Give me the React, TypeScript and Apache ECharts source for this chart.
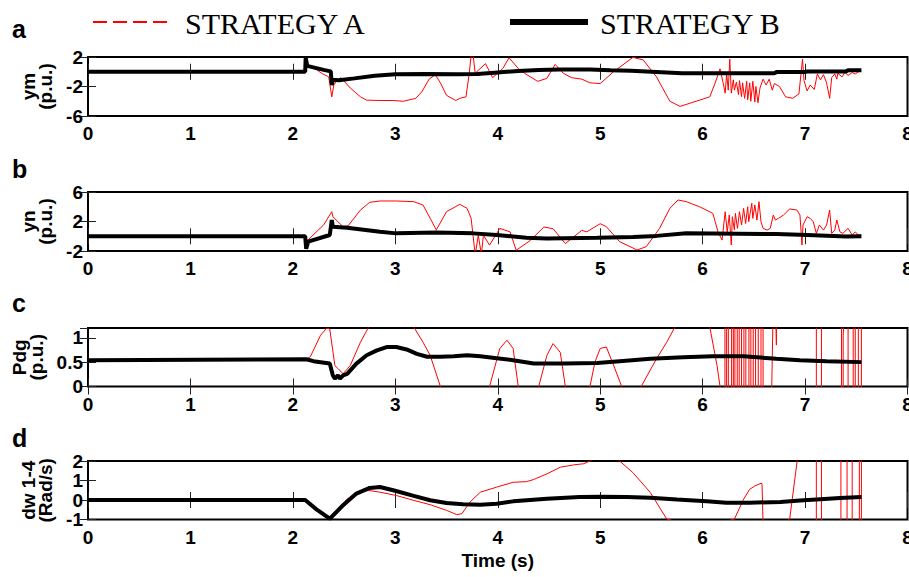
import React, { useEffect, useRef } from "react";
import * as echarts from "echarts";

type P = [number, number];

const xTickLabels = ["0", "1", "2", "3", "4", "5", "6", "7", "8"];
const legendNames = ["STRATEGY A", "STRATEGY B"];
const panelLetters = ["a", "b", "c", "d"];
const yNames = ["ym\n(p.u.)", "yn\n(p.u.)", "Pdg\n(p.u.)", "dw 1-4\n(Rad/s)"];
const yMins = [-6, -2, 0, -1];
const yMaxs = [2, 6, 1.2, 2];
const yIntervals = [4, 4, 0.5, 1];

// Panel a: ym
const ymB: P[] = [
  [0, 0], [2.12, 0], [2.125, 1.9], [2.14, 0.8], [2.2, 0.6], [2.3, 0.25], [2.37, 0.05], [2.38, -1.8],
  [2.39, -1.1], [2.45, -1.15], [2.6, -0.9], [2.8, -0.55], [3.0, -0.35], [3.3, -0.3], [3.6, -0.35],
  [3.8, -0.3], [4.0, -0.1], [4.2, 0.1], [4.4, 0.25], [4.6, 0.3], [4.9, 0.3], [5.1, 0.2], [5.3, 0.12],
  [5.5, 0.0], [5.8, -0.2], [6.2, -0.2], [6.7, -0.2], [6.72, -0.05], [7.0, -0.05], [7.02, 0.05],
  [7.4, 0.05], [7.42, 0.2], [7.55, 0.2],
];
const ymA: P[] = [
  [0, 0], [2.12, 0], [2.125, 1.9], [2.14, 1.0], [2.2, 0.6], [2.28, -0.2], [2.35, -0.7], [2.38, -3.4],
  [2.4, -1.8], [2.43, -1.2], [2.47, -0.8], [2.56, -2.2], [2.66, -3.4], [2.72, -3.85], [2.85, -3.9],
  [2.98, -3.9], [3.08, -4.0], [3.2, -3.6], [3.26, -2.7], [3.33, -1.0], [3.39, -0.4], [3.44, -1.5],
  [3.5, -3.2], [3.59, -3.9], [3.63, -3.6], [3.69, -3.4], [3.72, -0.4], [3.74, 2.2], [3.76, 2.2],
  [3.78, -0.2], [3.88, 1.1], [3.95, -0.8], [4.05, 0.45], [4.11, 1.9], [4.2, 0.45], [4.26, -0.2],
  [4.39, -1.3], [4.48, -0.9], [4.56, 1.0], [4.64, -0.2], [4.72, -0.8], [4.82, -1.0], [4.9, -1.5],
  [5.0, -1.6], [5.13, 0.0], [5.32, 1.95], [5.42, 1.6], [5.55, -0.7], [5.68, -4.0], [5.78, -4.7],
  [6.07, -3.4], [6.12, -1.6], [6.17, 0.4], [6.2, -1.5], [6.22, -2.9], [6.235, -0.2], [6.25, -2.5],
  [6.265, 1.7], [6.28, -2.9], [6.3, -1.1], [6.31, -2.5], [6.33, -1.4], [6.35, -3.1], [6.36, -1.2],
  [6.38, -3.4], [6.39, -1.5], [6.41, -3.6], [6.43, -1.3], [6.44, -3.8], [6.46, -1.5], [6.47, -4.0],
  [6.49, -1.3], [6.51, -4.1], [6.52, -2.0], [6.54, -4.2], [6.56, -2.2], [6.59, -1.0], [6.62, -1.8],
  [6.65, -1.0], [6.68, -2.5], [6.7, -1.6], [6.75, -2.0], [6.81, -3.4], [6.88, -3.6], [6.94, -3.0],
  [6.975, 1.7], [6.99, -1.2], [7.02, -2.6], [7.05, -1.8], [7.09, -2.4], [7.12, -0.3], [7.15, -1.1],
  [7.18, -0.4], [7.21, -1.5], [7.24, -3.6], [7.26, -0.8], [7.29, -0.3], [7.31, -1.0], [7.32, -0.2],
  [7.36, -0.7], [7.39, -0.1], [7.42, -0.5], [7.46, -0.1], [7.49, -0.3], [7.52, 0.0], [7.55, 0.1],
];

// Panel b: yn
const ynB: P[] = [
  [0, 0], [2.12, 0], [2.13, -1.7], [2.15, -0.74], [2.36, 0.17], [2.38, 2.2], [2.39, 1.3], [2.53, 1.16],
  [2.85, 0.6], [3.01, 0.39], [3.4, 0.5], [3.76, 0.39], [3.99, 0.16], [4.28, -0.2], [4.48, -0.3],
  [4.97, -0.2], [5.32, -0.1], [5.55, 0.05], [5.84, 0.4], [6.72, 0.3], [7.02, 0.17], [7.4, -0.05],
  [7.55, 0.0],
];
const ynA: P[] = [
  [0, 0], [2.12, 0], [2.13, -0.74], [2.3, 1.53], [2.38, 3.33], [2.39, 2.65], [2.44, 1.97], [2.49, 1.3],
  [2.54, 1.43], [2.66, 3.56], [2.75, 4.6], [2.85, 4.78], [3.01, 4.78], [3.18, 4.69], [3.27, 4.24],
  [3.34, 2.44], [3.4, 0.86], [3.5, 3.33], [3.63, 4.33], [3.7, 3.79], [3.74, 2.44], [3.78, -2.5],
  [3.81, 0.15], [3.84, -2.5], [3.86, 0.15], [3.92, -1.2], [4.02, 1.06], [4.12, 0.6], [4.18, -1.9],
  [4.32, -0.55], [4.45, 1.25], [4.54, 1.02], [4.66, -1.0], [4.74, -0.1], [4.82, 0.8], [4.87, 0.6],
  [5.0, 1.7], [5.06, 1.3], [5.19, -0.74], [5.36, -1.86], [5.45, -1.41], [5.58, 1.07], [5.68, 3.78],
  [5.76, 4.92], [5.84, 4.69], [5.97, 4.0], [6.1, 3.1], [6.15, 0.6], [6.19, -0.52], [6.22, 3.33],
  [6.24, 0.6], [6.26, 2.88], [6.28, -1.19], [6.29, 2.65], [6.31, 0.84], [6.32, 3.1], [6.34, 1.07],
  [6.36, 3.33], [6.38, 1.52], [6.4, 3.78], [6.42, 1.74], [6.44, 4.0], [6.45, 1.97], [6.48, 4.46],
  [6.49, 2.42], [6.51, 4.24], [6.53, 2.2], [6.55, 4.69], [6.57, 1.97], [6.59, 1.07], [6.63, 0.84],
  [6.66, 1.07], [6.69, 2.88], [6.71, 2.2], [6.74, 2.42], [6.79, 2.88], [6.85, 3.7], [6.92, 3.56],
  [6.95, 2.88], [6.97, -1.19], [6.98, 1.52], [7.02, 2.65], [7.05, 2.42], [7.08, 1.97], [7.11, 0.39],
  [7.14, 1.52], [7.18, 0.84], [7.21, 1.52], [7.24, 3.56], [7.26, 0.39], [7.29, 0.84], [7.31, 2.2],
  [7.34, 0.6], [7.37, 0.39], [7.42, 1.07], [7.46, 0.16], [7.49, 0.6], [7.52, 0.16], [7.55, 0.16],
];

// Panel c: Pdg
const pdgB: P[] = [
  [0, 0.54], [2.13, 0.56], [2.2, 0.52], [2.36, 0.47], [2.39, 0.23], [2.41, 0.16], [2.44, 0.23],
  [2.46, 0.16], [2.49, 0.23], [2.53, 0.26], [2.62, 0.47], [2.72, 0.64], [2.82, 0.74], [2.915, 0.81],
  [3.01, 0.81], [3.11, 0.76], [3.21, 0.67], [3.31, 0.61], [3.44, 0.61], [3.57, 0.62], [3.7, 0.64],
  [3.83, 0.62], [3.99, 0.58], [4.15, 0.54], [4.35, 0.47], [4.64, 0.47], [4.97, 0.48], [5.19, 0.52],
  [5.49, 0.57], [5.81, 0.6], [6.1, 0.62], [6.4, 0.62], [6.72, 0.57], [6.95, 0.54], [7.21, 0.52],
  [7.55, 0.5],
];
const pdgA: P[] = [
  [0, 0.54], [2.13, 0.56], [2.17, 0.61], [2.27, 1.05], [2.33, 1.2], [2.36, 1.18], [2.41, 0.43],
  [2.44, 0.37], [2.49, 0.26], [2.56, 0.43], [2.66, 0.91], [2.74, 1.22], [2.95, 1.6], [3.18, 1.22],
  [3.27, 0.91], [3.34, 0.64], [3.44, 0], [3.65, -0.6], [3.92, 0], [4.02, 0.78], [4.09, 0.95],
  [4.15, 0.78], [4.2, 0], [4.3, -0.5], [4.4, 0], [4.48, 0.64], [4.54, 0.88], [4.61, 0.7], [4.66, 0],
  [4.78, -0.5], [4.9, 0], [4.95, 0.51], [5.0, 0.78], [5.06, 0.81], [5.13, 0.44], [5.21, 0],
  [5.3, -0.3], [5.4, 0], [5.55, 0.57], [5.65, 0.91], [5.73, 1.22], [5.9, 1.6], [6.07, 1.22],
  [6.14, 0.44], [6.17, 0], [6.18, -3], [6.218, -3], [6.218, 3], [6.234, 3], [6.234, -3], [6.251, -3],
  [6.251, 3], [6.283, 3], [6.283, -3], [6.3, -3], [6.3, 3], [6.315, 3], [6.315, -3], [6.338, -3],
  [6.338, 3], [6.357, 3], [6.357, -3], [6.38, -3], [6.38, 3], [6.403, 3], [6.403, -3], [6.422, -3],
  [6.422, 3], [6.452, 3], [6.452, -3], [6.471, -3], [6.471, 3], [6.494, 3], [6.494, -3], [6.517, -3],
  [6.517, 3], [6.543, 3], [6.543, -3], [6.57, -3], [6.57, 3], [6.59, 3], [6.59, -3], [6.65, -3],
  [6.7, 3], [6.72, 0.85], [6.722, 3], [7.11, 3], [7.11, -3], [7.16, -3], [7.16, 3], [7.356, 3],
  [7.356, -3], [7.372, -3], [7.372, 1.04], [7.42, 3], [7.42, -3], [7.47, -3], [7.47, 3], [7.49, 3],
  [7.49, -3], [7.52, -3], [7.52, 3], [7.55, 3], [7.55, -3],
];

// Panel d: dw 1-4
const dwB: P[] = [
  [0, 0], [2.12, 0], [2.23, -0.48], [2.36, -0.96], [2.49, -0.27], [2.62, 0.33], [2.75, 0.62],
  [2.85, 0.67], [2.98, 0.5], [3.18, 0.21], [3.34, -0.01], [3.5, -0.15], [3.66, -0.22], [3.83, -0.24],
  [3.99, -0.19], [4.15, -0.07], [4.48, 0.07], [4.8, 0.16], [5.0, 0.17], [5.26, 0.16], [5.49, 0.12],
  [5.75, 0.02], [6.04, -0.07], [6.23, -0.14], [6.46, -0.14], [6.76, -0.1], [6.95, -0.02], [7.11, 0.03],
  [7.34, 0.1], [7.55, 0.15],
];
const dwA: P[] = [
  [0, 0], [2.12, 0], [2.23, -0.48], [2.36, -0.96], [2.39, -0.8], [2.53, 0.05], [2.66, 0.48],
  [2.75, 0.48], [2.85, 0.4], [3.01, 0.23], [3.18, -0.02], [3.34, -0.24], [3.5, -0.53], [3.6, -0.75],
  [3.65, -0.7], [3.73, -0.1], [3.83, 0.4], [3.99, 0.66], [4.15, 0.91], [4.28, 0.94], [4.35, 1.05],
  [4.48, 1.34], [4.61, 1.68], [4.74, 1.8], [4.84, 1.86], [4.9, 2.0], [5.05, 2.3], [5.19, 2.0],
  [5.32, 1.4], [5.49, 0.38], [5.65, -0.98], [6.0, -1.4], [6.31, -0.98], [6.4, 0.04], [6.46, 0.55],
  [6.51, 0.72], [6.57, 0.86], [6.58, 0.83], [6.59, -1.3], [6.7, -1.5], [6.85, -0.98], [6.93, 2.3],
  [7.11, 3], [7.11, -3], [7.16, -3], [7.16, 3], [7.35, 3], [7.35, -3], [7.41, -3], [7.41, 3],
  [7.46, 3], [7.46, -3], [7.53, -3], [7.53, 3], [7.55, 3], [7.55, -3],
];

const redSeries = [ymA, ynA, pdgA, dwA];
const blackSeries = [ymB, ynB, pdgB, dwB];

const gridTops = [57, 192, 328, 461];
const gridHeights = [59, 59, 58.5, 58.5];
const letterMiddles = [29, 169, 303, 438];

const SANS = '"Liberation Sans", Arial, sans-serif';
const SERIF = '"Liberation Serif", "Times New Roman", serif';

export default function App() {
  const ref = useRef<HTMLDivElement>(null);

  useEffect(() => {
    if (!ref.current) return;
    const chart = echarts.init(ref.current, undefined, { renderer: "svg" });

    const labelStyle = {
      fontFamily: SANS,
      fontWeight: "bold" as const,
      fontSize: 19,
      color: "#000",
    };
    const tickStyle = { color: "#222", width: 1 };

    const grids: any[] = [];
    const xAxes: any[] = [];
    const yAxes: any[] = [];
    const series: any[] = [];

    for (let i = 0; i < 4; i++) {
      grids.push({
        left: 88,
        right: 1.5,
        top: gridTops[i],
        height: gridHeights[i],
        containLabel: false,
        outerBoundsMode: "none",
        show: true,
        borderColor: "#000",
        borderWidth: 2,
        backgroundColor: "#fff",
      });
      xAxes.push({
        type: "value",
        gridIndex: i,
        min: 0,
        max: 8,
        interval: 1,
        position: "bottom",
        axisLine: { show: false },
        axisTick: { inside: true, length: 8, lineStyle: tickStyle },
        splitLine: { show: false },
        axisLabel: {
          ...labelStyle,
          margin: 8,
          formatter: (v: number) => xTickLabels[Math.round(v)] ?? String(v),
        },
        name: i === 3 ? "Time (s)" : "",
        nameLocation: "middle",
        nameGap: 31,
        nameTextStyle: { ...labelStyle },
      });
      xAxes.push({
        type: "value",
        gridIndex: i,
        min: 0,
        max: 8,
        interval: 1,
        position: "top",
        axisLine: { show: false },
        axisTick: { inside: true, length: 8, lineStyle: tickStyle },
        splitLine: { show: false },
        axisLabel: { show: false },
      });
      yAxes.push({
        type: "value",
        gridIndex: i,
        min: yMins[i],
        max: yMaxs[i],
        interval: yIntervals[i],
        position: "left",
        axisLine: { show: false },
        axisTick: { inside: true, length: 8, lineStyle: tickStyle },
        splitLine: { show: false },
        axisLabel: { ...labelStyle, margin: 5, showMaxLabel: i === 2 ? false : true },
        name: yNames[i],
        nameLocation: "middle",
        nameRotate: 90,
        nameGap: 17,
        nameTextStyle: { ...labelStyle, lineHeight: 17 },
      });
      yAxes.push({
        type: "value",
        gridIndex: i,
        min: yMins[i],
        max: yMaxs[i],
        interval: yIntervals[i],
        position: "right",
        axisLine: { show: false },
        axisTick: { inside: true, length: 8, lineStyle: tickStyle },
        splitLine: { show: false },
        axisLabel: { show: false },
      });
      series.push({
        type: "line",
        name: legendNames[0],
        xAxisIndex: i * 2,
        yAxisIndex: i * 2,
        data: redSeries[i],
        showSymbol: false,
        symbol: "none",
        clip: true,
        lineStyle: { color: "#ff0000", width: 1 },
        z: 2,
      });
      series.push({
        type: "line",
        name: legendNames[1],
        xAxisIndex: i * 2,
        yAxisIndex: i * 2,
        data: blackSeries[i],
        showSymbol: false,
        symbol: "none",
        clip: true,
        lineStyle: { color: "#000", width: 4 },
        z: 3,
      });
    }

    const graphic: any[] = [
      {
        type: "line",
        shape: { x1: 93, y1: 22, x2: 170, y2: 22 },
        style: { stroke: "#ff0000", lineWidth: 2, lineDash: [14, 6] },
      },
      {
        type: "text",
        x: 185,
        y: 23,
        style: { text: legendNames[0], font: `30px ${SERIF}`, fill: "#000", verticalAlign: "middle" },
      },
      {
        type: "line",
        shape: { x1: 510, y1: 22, x2: 588, y2: 22 },
        style: { stroke: "#000", lineWidth: 6 },
      },
      {
        type: "text",
        x: 600,
        y: 23,
        style: { text: legendNames[1], font: `30px ${SERIF}`, fill: "#000", verticalAlign: "middle" },
      },
    ];
    panelLetters.forEach((l, i) => {
      graphic.push({
        type: "text",
        x: 12,
        y: letterMiddles[i],
        style: {
          text: l,
          font: `bold 25px ${SANS}`,
          fill: "#000",
          verticalAlign: "middle",
        },
      });
    });

    chart.setOption({
      animation: false,
      backgroundColor: "#fff",
      grid: grids,
      xAxis: xAxes,
      yAxis: yAxes,
      series,
      graphic,
    });

    return () => chart.dispose();
  }, []);

  return (
    <div
      ref={ref}
      style={{ position: "fixed", left: 0, top: 0, width: 909, height: 577 }}
    />
  );
}
